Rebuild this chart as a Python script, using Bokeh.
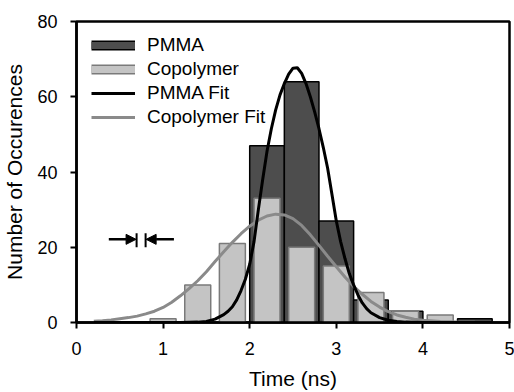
from bokeh.plotting import figure
from bokeh.models import Range1d, Legend, LegendItem, Arrow, NormalHead
from bokeh.embed import file_html
from bokeh.resources import INLINE

# ---- data ----
bin_centers = [1.0, 1.4, 1.8, 2.2, 2.6, 3.0, 3.4, 3.8, 4.2, 4.6]
pmma_counts = [0, 0, 0, 47, 64, 27, 6, 3, 0, 1]
copolymer_counts = [1, 10, 21, 33, 20, 15, 8, 3, 2, 0]

pmma_fit_x = [0.2, 0.6, 1.0, 1.2, 1.4, 1.5, 1.6, 1.7, 1.75, 1.8, 1.85, 1.9, 1.95,
              2.0, 2.05, 2.1, 2.15, 2.2, 2.25, 2.3, 2.35, 2.4, 2.45, 2.5, 2.55,
              2.6, 2.65, 2.7, 2.75, 2.8, 2.85, 2.9, 2.95, 3.0, 3.05, 3.1, 3.15,
              3.2, 3.25, 3.3, 3.35, 3.4, 3.5, 3.6, 3.7, 3.8, 4.0, 4.4, 4.8]
pmma_fit_y = [0, 0, 0, 0, 0.1, 0.3, 0.9, 2.1, 3.0, 4.2, 6.0, 8.5, 11.5,
              15.5, 21.5, 30, 38, 45.5, 51.5, 56.5, 60.5, 63.5, 66, 67.6, 67.7,
              66.2, 63.5, 60, 56, 51.5, 46.5, 41, 34, 27, 21.5, 17, 13,
              10, 7.3, 5.2, 3.7, 2.6, 1.3, 0.6, 0.3, 0.1, 0, 0, 0]

copolymer_fit_x = [0.2, 0.3, 0.4, 0.5, 0.6, 0.7, 0.8, 0.9, 1.0, 1.1, 1.2, 1.3,
                   1.4, 1.5, 1.6, 1.7, 1.8, 1.9, 2.0, 2.1, 2.2, 2.3, 2.4, 2.5,
                   2.6, 2.7, 2.8, 2.9, 3.0, 3.1, 3.2, 3.3, 3.4, 3.5, 3.6, 3.7,
                   3.8, 3.9, 4.0, 4.2, 4.4, 4.6, 4.8]
copolymer_fit_y = [0.3, 0.45, 0.7, 1.0, 1.3, 1.7, 2.3, 3.0, 4.0, 5.4, 7.1, 9.0,
                   11.1, 13.5, 16.2, 18.8, 21.3, 23.6, 25.6, 27.2, 28.3, 28.8, 28.6, 27.6,
                   25.8, 23.3, 20.5, 17.6, 14.8, 12.1, 9.6, 7.5, 5.6, 4.1, 2.9, 2.0,
                   1.4, 0.9, 0.6, 0.25, 0.1, 0.04, 0.01]

x_ticks = [0, 1, 2, 3, 4, 5]
y_ticks = [0, 20, 40, 60, 80]

FONT = "Liberation Sans"
PMMA_FILL = "#4d4d4d"
COPO_FILL = "#c4c4c4"
COPO_LINE = "#7a7a7a"
COPO_FIT = "#8a8a8a"
NAN = float("nan")

p = figure(width=514, height=392, output_backend="svg", toolbar_location=None,
           title=None, x_range=Range1d(0, 5), y_range=Range1d(0, 80),
           min_border_left=76, min_border_right=5, min_border_top=21,
           min_border_bottom=70, background_fill_color="white",
           border_fill_color="white")

p.outline_line_color = "black"
p.outline_line_width = 2.5
p.xgrid.visible = False
p.ygrid.visible = False

# bars
p.vbar(x=bin_centers, top=pmma_counts, width=0.4, fill_color=PMMA_FILL,
       line_color="black", line_width=1.5)
p.vbar(x=bin_centers, top=copolymer_counts, width=0.3, fill_color=COPO_FILL,
       line_color=COPO_LINE, line_width=1.5)

# fits
fit_c = p.line(copolymer_fit_x, copolymer_fit_y, line_color=COPO_FIT, line_width=3)
fit_p = p.line(pmma_fit_x, pmma_fit_y, line_color="black", line_width=3)

# legend swatches (thin bar-like boxes); they draw nothing in the plot
lp_a = p.line(x=[NAN], y=[NAN], line_color="black", line_width=10)
lp_b = p.line(x=[NAN], y=[NAN], line_color=PMMA_FILL, line_width=7)
lc_a = p.line(x=[NAN], y=[NAN], line_color=COPO_LINE, line_width=10)
lc_b = p.line(x=[NAN], y=[NAN], line_color=COPO_FILL, line_width=7)

legend = Legend(items=[
    LegendItem(label="PMMA", renderers=[lp_a, lp_b]),
    LegendItem(label="Copolymer", renderers=[lc_a, lc_b]),
    LegendItem(label="PMMA Fit", renderers=[fit_p]),
    LegendItem(label="Copolymer Fit", renderers=[fit_c]),
], location=(15, 194), glyph_width=44, glyph_height=20, label_height=20,
    label_standoff=12, spacing=2, padding=8, margin=0,
    label_text_font=FONT, label_text_font_size="19px", label_text_color="black",
    border_line_color=None, background_fill_alpha=0)
p.add_layout(legend)

# axes
for ax in (p.xaxis[0], p.yaxis[0]):
    ax.axis_line_width = 2.5
    ax.axis_line_color = "black"
    ax.major_tick_in = 0
    ax.major_tick_out = 6
    ax.major_tick_line_width = 2
    ax.minor_tick_line_color = None
    ax.major_label_text_font = FONT
    ax.major_label_text_font_size = "18px"
    ax.major_label_text_color = "black"
    ax.axis_label_text_font = FONT
    ax.axis_label_text_font_size = "21px"
    ax.axis_label_text_font_style = "normal"
    ax.axis_label_text_color = "black"

p.xaxis.ticker = x_ticks
p.yaxis.ticker = y_ticks
p.xaxis.axis_label = "Time (ns)"
p.yaxis.axis_label = "Number of Occurences"
p.xaxis.major_label_standoff = 13
p.yaxis.major_label_standoff = 13
p.xaxis.axis_label_standoff = 9
p.yaxis.axis_label_standoff = 8

# resolution marker annotation ( ->| |<- )
AR_Y = 22.1
AR_L0, AR_L1 = 0.373, 0.688
AR_R0, AR_R1 = 1.125, 0.804
BAR_L, BAR_R = 0.694, 0.798
BAR_Y0, BAR_Y1 = 20.0, 23.7
p.add_layout(Arrow(x_start=AR_L0, y_start=AR_Y, x_end=AR_L1, y_end=AR_Y,
                   line_width=2.5, line_color="black",
                   end=NormalHead(size=10, fill_color="black", line_color="black", line_width=1)))
p.add_layout(Arrow(x_start=AR_R0, y_start=AR_Y, x_end=AR_R1, y_end=AR_Y,
                   line_width=2.5, line_color="black",
                   end=NormalHead(size=10, fill_color="black", line_color="black", line_width=1)))
p.add_layout(Arrow(x_start=BAR_L, y_start=BAR_Y0, x_end=BAR_L, y_end=BAR_Y1,
                   line_width=2, line_color="black", end=None))
p.add_layout(Arrow(x_start=BAR_R, y_start=BAR_Y0, x_end=BAR_R, y_end=BAR_Y1,
                   line_width=2, line_color="black", end=None))

open("out.html", "w").write(file_html(p, INLINE))
